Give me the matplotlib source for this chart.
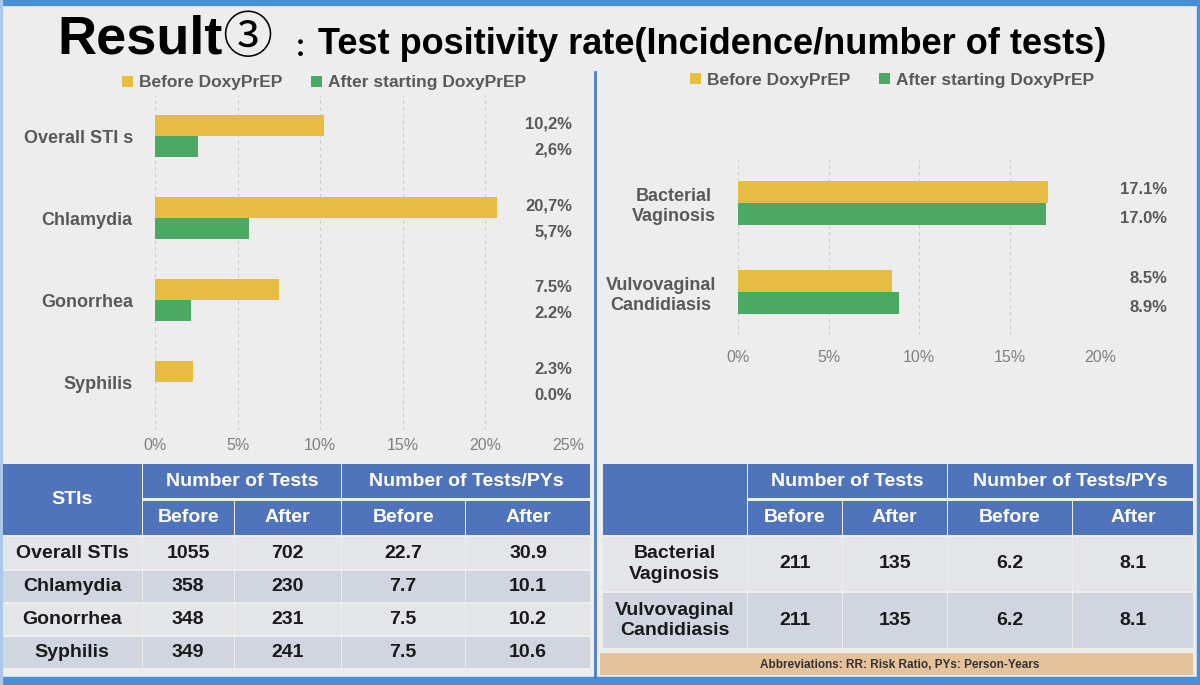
import numpy as np
import matplotlib.pyplot as plt
from matplotlib.patches import Rectangle
from matplotlib import font_manager

# Datos: tasas de positividad (%)
sti_cats = ['Overall STI s', 'Chlamydia', 'Gonorrhea', 'Syphilis']
sti_before = [10.2, 20.7, 7.5, 2.3]
sti_after = [2.6, 5.7, 2.2, 0.0]
sti_before_lbl = ['10,2%', '20,7%', '7.5%', '2.3%']
sti_after_lbl = ['2,6%', '5,7%', '2.2%', '0.0%']

vag_cats = ['Bacterial\nVaginosis', 'Vulvovaginal\nCandidiasis']
vag_before = [17.1, 8.5]
vag_after = [17.0, 8.9]
vag_before_lbl = ['17.1%', '8.5%']
vag_after_lbl = ['17.0%', '8.9%']

# Tablas
tab_sti_rows = ['Overall STIs', 'Chlamydia', 'Gonorrhea', 'Syphilis']
tab_sti_vals = [['1055', '702', '22.7', '30.9'],
                ['358', '230', '7.7', '10.1'],
                ['348', '231', '7.5', '10.2'],
                ['349', '241', '7.5', '10.6']]
tab_vag_rows = ['Bacterial\nVaginosis', 'Vulvovaginal\nCandidiasis']
tab_vag_vals = [['211', '135', '6.2', '8.1'],
                ['211', '135', '6.2', '8.1']]

W, H = 1200, 685
BG = '#ededed'
YEL = '#e6bd42'
GRN = '#4aaa64'
BLUE = '#5074bc'
GRAY = '#595959'
FONT = ['Liberation Sans', 'DejaVu Sans']

names = {f.name for f in font_manager.fontManager.ttflist}
narrow = 'Liberation Sans Narrow' in names

plt.rcParams['font.family'] = FONT

fig = plt.figure(figsize=(12, 6.85), dpi=100, facecolor=BG)

# capa de fondo en pixeles
bg = fig.add_axes([0, 0, 1, 1], zorder=0)
bg.set_xlim(0, W)
bg.set_ylim(H, 0)
bg.axis('off')


def px_axes(x0, y0, x1, y1):
    return fig.add_axes([x0 / W, 1 - y1 / H, (x1 - x0) / W, (y1 - y0) / H], zorder=2)


# marco azul
bg.add_patch(Rectangle((0, 0), W, 5, color='#4a8fd6'))
bg.add_patch(Rectangle((0, 677), W, 8, color='#4a8fd6'))
bg.add_patch(Rectangle((1197, 0), 3, H, color='#4a8fd6'))
bg.add_patch(Rectangle((0, 0), 2, H, color='#a9c8ea'))
bg.plot([595, 595], [72, 677], color='#4a7ec0', lw=2)

# Titulo
bg.text(57, 53, 'Result', fontsize=39, fontweight='bold', va='baseline', color='black')
bg.text(222, 53, '③', fontsize=36, va='baseline', color='black',
        family=['Noto Sans CJK JP', 'DejaVu Sans'])
bg.text(288, 57, '：', fontsize=18, fontweight='bold', va='baseline', color='black',
        family=['Noto Sans CJK JP', 'DejaVu Sans'])
if narrow:
    bg.text(318, 54, 'Test positivity rate(Incidence/number of tests)', fontsize=27,
            fontweight='bold', va='baseline', family=['Liberation Sans Narrow'])
else:
    bg.text(318, 54, 'Test positivity rate(Incidence/number of tests)', fontsize=26,
            fontweight='bold', va='baseline')


def bar_chart(ax, cats, before, after, blbl, albl, xmax, ylim, lblx, bh, xpad):
    y = np.arange(len(cats))
    b1 = ax.barh(y - bh / 2, before, height=bh, color=YEL, label='Before DoxyPrEP', zorder=3)
    b2 = ax.barh(y + bh / 2, after, height=bh, color=GRN, label='After starting DoxyPrEP', zorder=3)
    ax.set_xlim(0, xmax)
    ax.set_ylim(*ylim)
    ax.set_yticks(y)
    ax.set_yticklabels(cats, fontsize=13, fontweight='bold', color=GRAY, multialignment='center')
    ax.set_xticks(np.arange(0, xmax + 1, 5))
    ax.set_xticklabels([f'{v}%' for v in range(0, xmax + 1, 5)], fontsize=11.5, color='#7f7f7f')
    ax.tick_params(length=0, pad=xpad)
    ax.tick_params(axis='y', pad=16)
    ax.grid(axis='x', color='#cccccc', ls=(0, (3, 3)), lw=0.8, zorder=0)
    for s in ax.spines.values():
        s.set_visible(False)
    ax.set_facecolor('none')
    for i in range(len(cats)):
        ax.text(lblx, i - 0.15, blbl[i], ha='right', va='center', fontsize=12,
                fontweight='bold', color=GRAY, clip_on=False)
        ax.text(lblx, i + 0.17, albl[i], ha='right', va='center', fontsize=12,
                fontweight='bold', color=GRAY, clip_on=False)
    return b1, b2


ax1 = px_axes(155, 95, 568, 430)
h1 = bar_chart(ax1, sti_cats, sti_before, sti_after, sti_before_lbl, sti_after_lbl,
               25, (3.585, -0.5), 25.25, 0.26, 6)
ax2 = px_axes(738, 160, 1100, 335)
h2 = bar_chart(ax2, vag_cats, vag_before, vag_after, vag_before_lbl, vag_after_lbl,
               20, (1.483, -0.483), 23.7, 0.247, 11)

for ax, h, cx, cy in [(ax1, h1, 324, 83), (ax2, h2, 892, 80)]:
    leg = fig.legend(h, [b.get_label() for b in h], loc='center', ncol=2, frameon=False,
                     bbox_to_anchor=(cx / W, 1 - cy / H), handlelength=0.65, handleheight=0.65,
                     handletextpad=0.35, columnspacing=1.6, prop={'size': 12.5, 'weight': 'bold'})
    for t in leg.get_texts():
        t.set_color(GRAY)


def cell(x0, x1, y0, y1, color, text='', tcolor='black', fs=14):
    bg.add_patch(Rectangle((x0, y0), x1 - x0, y1 - y0, color=color, lw=0))
    if text:
        bg.text((x0 + x1) / 2, (y0 + y1) / 2, text, ha='center', va='center', fontsize=fs,
                fontweight='bold', color=tcolor, multialignment='center', linespacing=1.3)


def table(cols, first_hdr, rows, vals, row_edges):
    g = 1.5
    # encabezado
    cell(cols[0], cols[1] - g, 464, 535, BLUE, first_hdr, 'white')
    cell(cols[1], cols[3] - g, 464, 498, BLUE, 'Number of Tests', 'white')
    cell(cols[3], cols[5], 464, 498, BLUE, 'Number of Tests/PYs', 'white')
    for j, lab in enumerate(['Before', 'After', 'Before', 'After']):
        cell(cols[j + 1], cols[j + 2] - (g if j < 3 else 0), 501, 535, BLUE, lab, 'white')
    for i, r in enumerate(rows):
        y0, y1 = row_edges[i] + 1, row_edges[i + 1] - 1
        col = '#e4e5e9' if i % 2 == 0 else '#d0d5e0'
        cell(cols[0], cols[1] - g, y0, y1, col, r, '#1a1a1a')
        for j, v in enumerate(vals[i]):
            cell(cols[j + 1], cols[j + 2] - (g if j < 3 else 0), y0, y1, col, v, '#1a1a1a')


table([3, 143, 235, 342, 466, 590], 'STIs', tab_sti_rows, tab_sti_vals,
      [536, 570, 603, 636, 669])
table([603, 748, 843, 948, 1073, 1193], '', tab_vag_rows, tab_vag_vals,
      [536, 592, 649])

bg.add_patch(Rectangle((600, 653), 593, 22, color='#e6c29b', lw=0))
bg.text(900, 665, 'Abbreviations: RR: Risk Ratio, PYs: Person-Years', ha='center', va='center',
        fontsize=8.5, fontweight='bold', color='#333333')

fig.savefig('out.png', dpi=100, facecolor=BG)
